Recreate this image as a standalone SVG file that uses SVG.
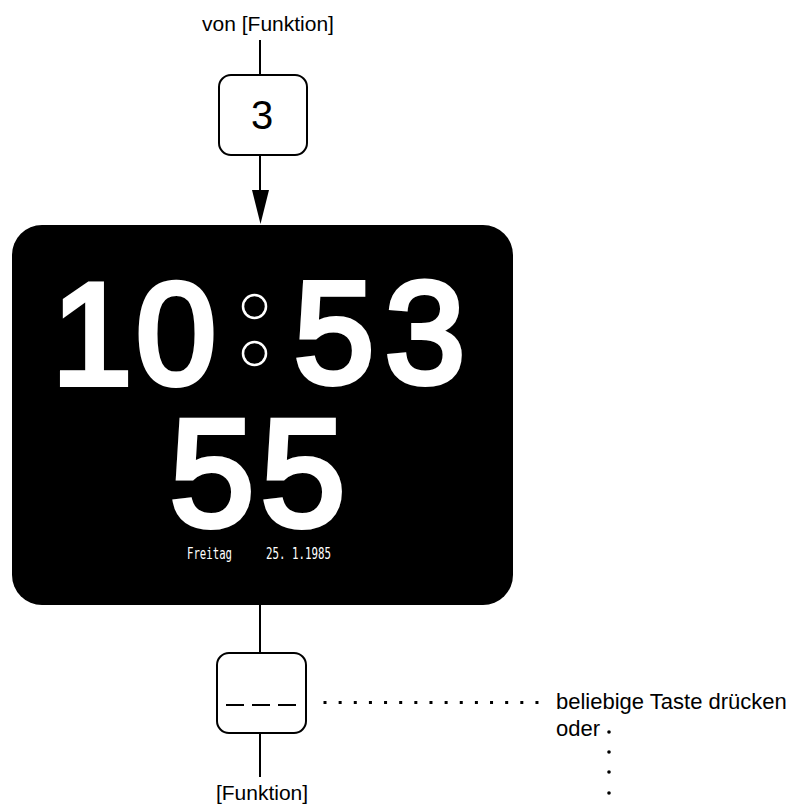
<svg xmlns="http://www.w3.org/2000/svg" width="799" height="812" viewBox="0 0 799 812">
<defs>
<style>
.lbl{font-family:"Liberation Sans",Arial,sans-serif;fill:#000;}
.key{fill:#fff;stroke:#000;stroke-width:2;}
.conn{stroke:#000;stroke-width:2;fill:none;}
.big{font-family:"Liberation Sans",Arial,sans-serif;fill:#fff;stroke:#fff;stroke-width:6;stroke-linejoin:miter;text-anchor:middle;}
.small{font-family:"DejaVu Sans Mono",monospace;fill:#fff;font-size:15px;}
</style>
</defs>
<rect width="799" height="812" fill="#fff"/>
<g id="connectors">
<line class="conn" x1="260" y1="40" x2="260" y2="75"/>
<line class="conn" x1="260" y1="155" x2="260" y2="192"/>
<path d="M252,190 L269,190 L260.5,224 Z" fill="#000"/>
<line class="conn" x1="260" y1="605" x2="260" y2="653"/>
<line class="conn" x1="260" y1="733" x2="260" y2="777"/>
<line x1="323.5" y1="702.5" x2="541" y2="702.5" stroke="#000" stroke-width="3" stroke-dasharray="3 12.14"/>
<circle cx="609" cy="732" r="1.8" fill="#000"/>
<circle cx="609" cy="752" r="1.8" fill="#000"/>
<circle cx="609" cy="772" r="1.8" fill="#000"/>
<circle cx="609" cy="793" r="1.8" fill="#000"/>
</g>
<g id="label-top">
<text class="lbl" x="268" y="31" font-size="21" text-anchor="middle">von [Funktion]</text>
</g>
<g id="key3">
<rect class="key" x="219" y="75" width="88" height="80" rx="12"/>
<text class="lbl" x="262" y="129" font-size="40" text-anchor="middle">3</text>
</g>
<g id="screen">
<rect x="12" y="225" width="501" height="380" rx="30" fill="#000"/>
<text class="big" x="92" y="384" font-size="144">1</text>
<text class="big" x="176" y="384" font-size="144">0</text>
<circle cx="254.5" cy="306.5" r="11.5" fill="none" stroke="#fff" stroke-width="2.5"/>
<circle cx="254.5" cy="353.5" r="11.5" fill="none" stroke="#fff" stroke-width="2.5"/>
<text class="big" x="334" y="383" font-size="144">5</text>
<text class="big" x="425" y="383" font-size="144">3</text>
<text class="big" x="212" y="526" font-size="152">5</text>
<text class="big" x="303" y="526" font-size="152">5</text>
<text class="small" x="187" y="559" textLength="45" lengthAdjust="spacingAndGlyphs">Freitag</text>
<text class="small" x="266" y="559" textLength="65" lengthAdjust="spacingAndGlyphs">25. 1.1985</text>
</g>
<g id="key-any">
<rect class="key" x="217" y="653" width="89" height="80" rx="12"/>
<line x1="226" y1="705" x2="297" y2="705" stroke="#000" stroke-width="2" stroke-dasharray="18 8"/>
</g>
<g id="label-bottom">
<text class="lbl" x="262" y="800" font-size="21" text-anchor="middle">[Funktion]</text>
</g>
<g id="label-right">
<text class="lbl" x="556" y="709" font-size="22">beliebige Taste drücken</text>
<text class="lbl" x="556" y="736" font-size="22">oder</text>
</g>
</svg>
